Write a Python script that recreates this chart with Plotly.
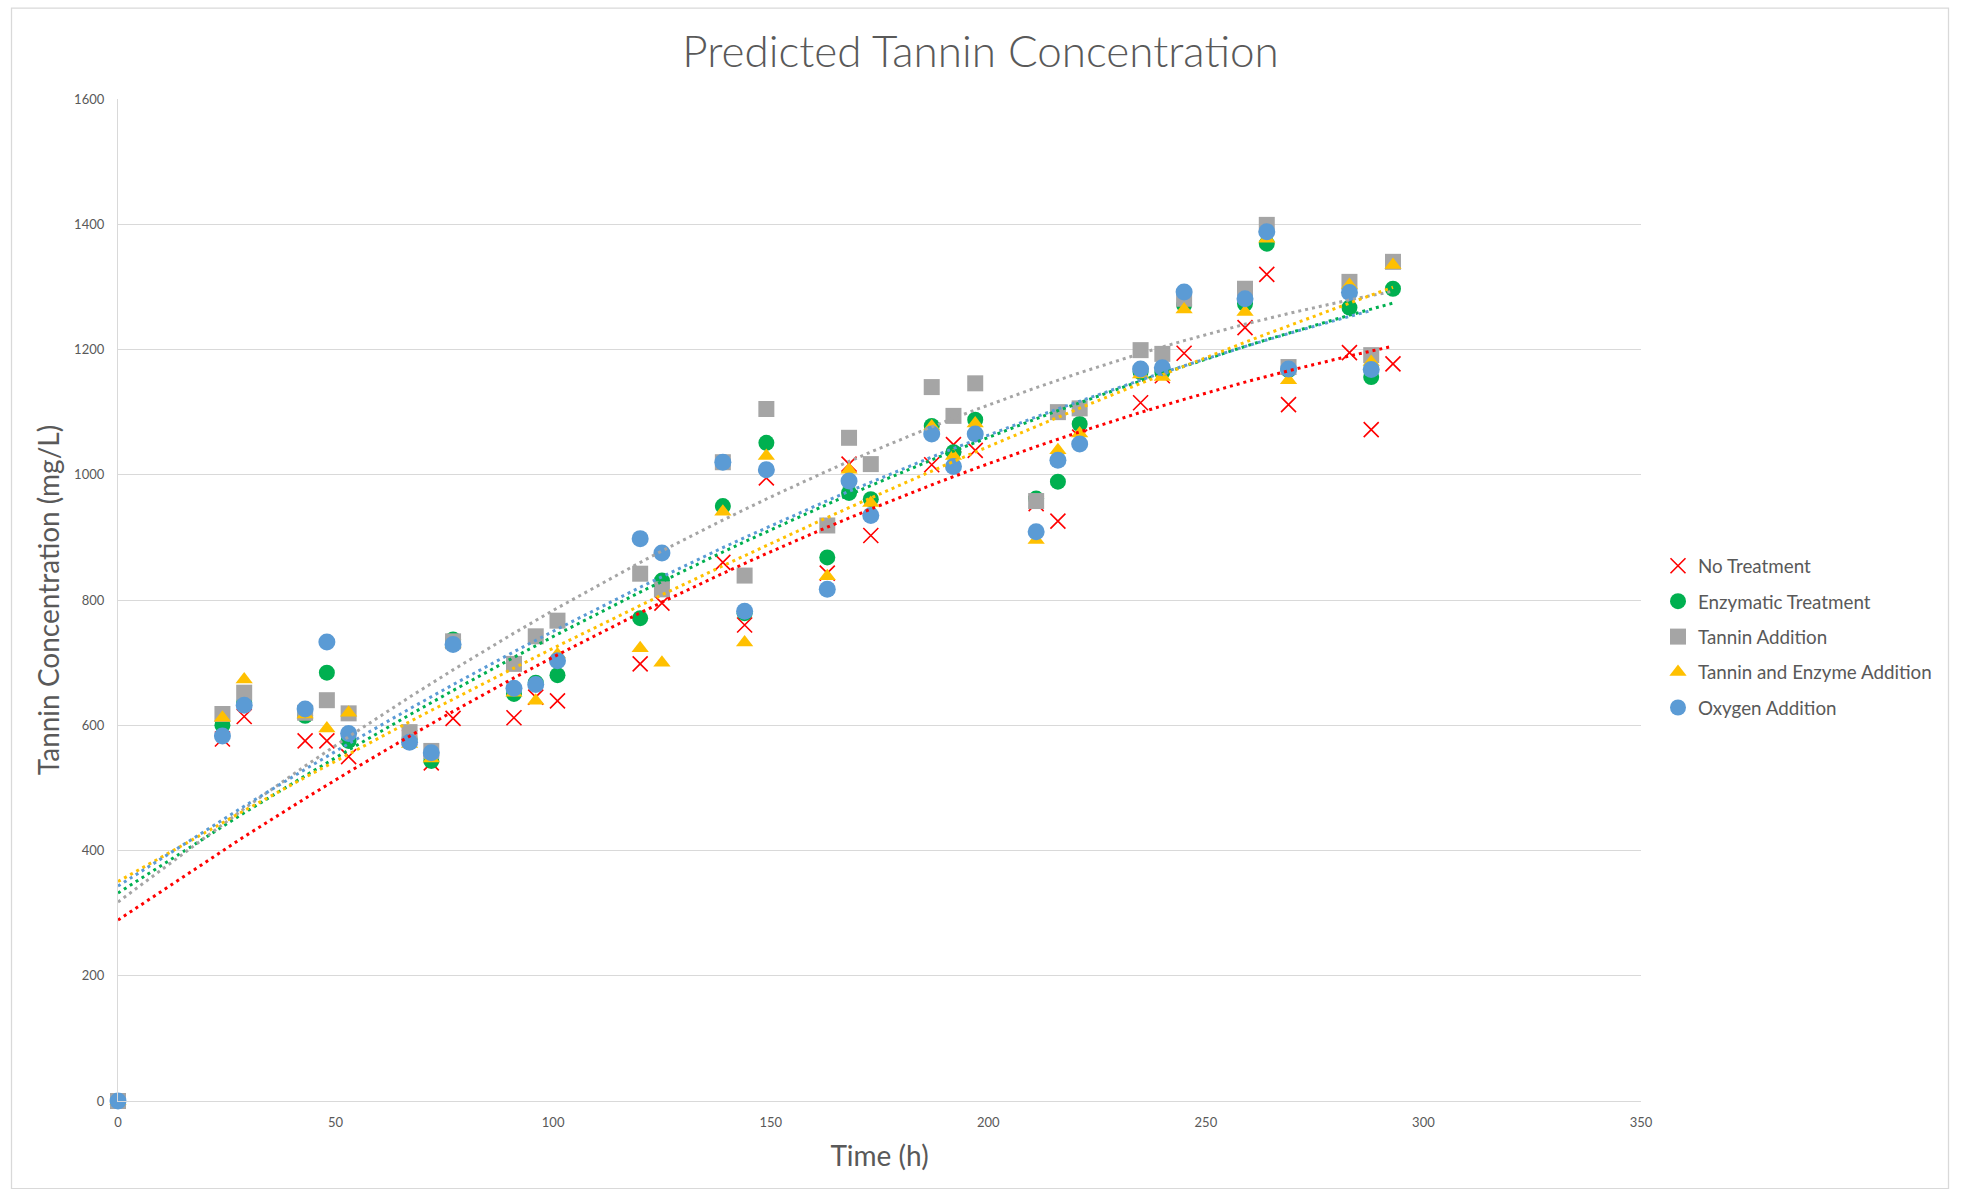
import numpy as np
import plotly.graph_objects as go

# Sampling times (h)
hours = [0, 24, 29, 43, 48, 53, 67, 72, 77, 91, 96, 101, 120, 125, 139, 144, 149,
         163, 168, 173, 187, 192, 197, 211, 216, 221, 235, 240, 245, 259, 264, 269,
         283, 288, 293]
hours_oxygen = hours[:-1]

# Predicted tannin concentration (mg/L) per treatment
no_treatment = [0, 578, 614, 575, 575, 550, 580, 540, 611, 612, 645, 639, 698, 795,
                860, 760, 995, 843, 1017, 903, 1016, 1048, 1039, 954, 926, 1060,
                1115, 1158, 1194, 1235, 1320, 1112, 1195, 1072, 1177]
enzymatic = [0, 600, 636, 615, 684, 575, 578, 543, 737, 650, 668, 680, 771, 831,
             950, 779, 1051, 868, 971, 961, 1078, 1036, 1088, 962, 989, 1081,
             1164, 1164, 1271, 1273, 1369, 1167, 1267, 1156, 1297]
tannin = [0, 618, 652, 620, 640, 619, 589, 559, 734, 698, 742, 767, 842, 817,
          1020, 839, 1105, 919, 1059, 1017, 1140, 1094, 1146, 958, 1100, 1106,
          1199, 1193, 1281, 1297, 1399, 1172, 1308, 1191, 1340]
tannin_enzyme = [0, 612, 673, 617, 595, 620, 570, 547, 730, 652, 639, 713, 723, 700,
                 941, 732, 1030, 838, 1008, 955, 1077, 1030, 1082, 896, 1039, 1066,
                 1160, 1156, 1264, 1260, 1377, 1151, 1303, 1180, 1335]
oxygen = [0, 583, 632, 626, 733, 587, 573, 556, 729, 659, 665, 703, 898, 875,
          1020, 782, 1008, 817, 990, 935, 1065, 1013, 1065, 909, 1023, 1049,
          1169, 1171, 1292, 1281, 1388, 1169, 1291, 1168]

series_names = ["No Treatment", "Enzymatic Treatment", "Tannin Addition",
                "Tannin and Enzyme Addition", "Oxygen Addition"]
series_x = [hours, hours, hours, hours, hours_oxygen]
series_y = [no_treatment, enzymatic, tannin, tannin_enzyme, oxygen]
colors = ["#FF0000", "#00B050", "#A5A5A5", "#FFC000", "#5B9BD5"]
symbols = ["x-thin-open", "circle", "square", "triangle-up", "circle"]
sizes = [15, 16, 16, 15, 17]

FONT = "Lato, 'Open Sans', sans-serif"
TEXT = "#595959"
GRID = "#D9D9D9"

fig = go.Figure()

# Scatter markers
for i, name in enumerate(series_names):
    if symbols[i].startswith("x"):
        marker = dict(symbol=symbols[i], size=sizes[i], color=colors[i],
                      line=dict(color=colors[i], width=1.6))
    else:
        marker = dict(symbol=symbols[i], size=sizes[i], color=colors[i],
                      line=dict(width=0))
    fig.add_trace(go.Scatter(
        x=series_x[i], y=series_y[i], mode="markers", name=name,
        marker=marker, legendgroup=name, cliponaxis=False,
    ))

# Second-order polynomial trendlines, drawn over the markers
for i, name in enumerate(series_names):
    tx = np.array(series_x[i], dtype=float)
    ty = np.array(series_y[i], dtype=float)
    coeffs = np.polyfit(tx, ty, 2)
    fig.add_trace(go.Scatter(
        x=tx, y=np.polyval(coeffs, tx), mode="lines", showlegend=False,
        hoverinfo="skip", legendgroup=name,
        line=dict(color=colors[i], width=3, dash="3px,4px"),
    ))

W, H = 1961, 1189
ML, MR, MT, MB = 118, 320, 99, 88
pw, ph = W - ML - MR, H - MT - MB


def px_x(p):
    return (p - ML) / pw


def px_y(p):
    return (H - MB - p) / ph


fig.update_layout(
    width=W, height=H,
    margin=dict(l=ML, r=MR, t=MT, b=MB),
    paper_bgcolor="white", plot_bgcolor="white",
    font=dict(family=FONT, color=TEXT),
    title=dict(text="Predicted Tannin Concentration", x=0.5, xref="container",
               y=1 - 52 / H, yref="container", xanchor="center", yanchor="middle",
               font=dict(family=FONT, size=44, color=TEXT, weight=300)),
    xaxis=dict(range=[0, 350], dtick=50, tick0=0, showgrid=False, zeroline=False,
               showline=True, linecolor=GRID, linewidth=1.25, ticks="",
               ticklabelstandoff=9,
               tickfont=dict(family=FONT, size=13, color=TEXT),
               title=dict(text="Time (h)", standoff=17,
                          font=dict(family=FONT, size=28, color=TEXT))),
    yaxis=dict(range=[0, 1600], dtick=200, tick0=0, showgrid=True, gridcolor=GRID,
               gridwidth=1.25, zeroline=False, showline=True, linecolor=GRID,
               linewidth=1.25, ticks="", ticklabelstandoff=10,
               tickfont=dict(family=FONT, size=13, color=TEXT),
               title=dict(text="Tannin Concentration (mg/L)", standoff=6,
                          font=dict(family=FONT, size=28, color=TEXT))),
    legend=dict(x=px_x(1658), xanchor="left", y=px_y(637), yanchor="middle",
                traceorder="grouped", tracegroupgap=8, bgcolor="rgba(0,0,0,0)",
                font=dict(family=FONT, size=18.8, color=TEXT)),
    showlegend=True,
    shapes=[dict(type="rect", xref="paper", yref="paper",
                 x0=px_x(11.5), x1=px_x(1948.5), y0=px_y(1188.5), y1=px_y(8),
                 line=dict(color=GRID, width=1.25), fillcolor="rgba(0,0,0,0)",
                 layer="below")],
)

fig.write_html("out.html")
